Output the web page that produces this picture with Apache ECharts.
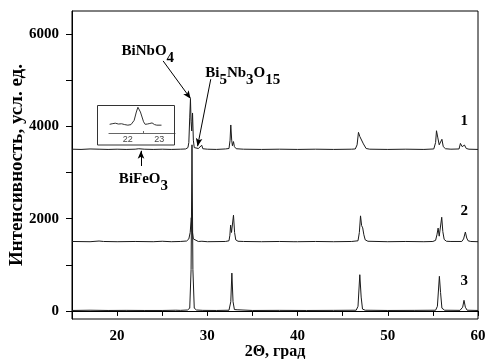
<!DOCTYPE html>
<html>
<head>
<meta charset="utf-8">
<script src="https://cdn.jsdelivr.net/npm/echarts@6/dist/echarts.min.js"></script>
<style>
html,body{margin:0;padding:0;background:#fff;}
#chart{width:487px;height:359px;}
</style>
</head>
<body>
<div id="chart"></div>
<script>
// ---- data (2Θ, intensity) ----
const curve1 = [
  [15,3505],[16,3500],[17,3510],[18,3505],[19,3500],[20,3505],[21,3500],[22,3505],[22.4,3515],[23,3505],
  [24,3500],[25,3505],[26,3500],[27,3505],[27.6,3510],[27.85,3540],[27.95,3650],[28.05,4200],[28.13,4590],
  [28.2,4100],[28.27,3900],[28.36,4290],[28.45,3700],[28.55,3540],[28.7,3515],[29.0,3520],[29.2,3510],
  [29.38,3590],[29.5,3515],[30,3505],[31,3500],[32,3510],[32.4,3520],[32.52,3700],[32.6,4030],[32.7,3700],
  [32.78,3580],[32.9,3670],[33.0,3560],[33.2,3515],[34,3505],[36,3500],[38,3505],[40,3500],[42,3505],
  [44,3500],[46,3505],[46.4,3510],[46.6,3600],[46.75,3870],[46.9,3780],[47.05,3740],[47.3,3620],[47.6,3520],
  [48,3505],[50,3500],[52,3505],[54,3500],[55.1,3510],[55.3,3650],[55.4,3905],[55.55,3750],[55.7,3600],
  [55.85,3620],[56.0,3720],[56.15,3560],[56.4,3515],[57,3505],[57.9,3510],[58.05,3630],[58.25,3560],
  [58.5,3595],[58.7,3520],[59,3505],[60,3500]
];
const curve2 = [
  [15,1505],[17,1500],[18,1515],[18.5,1505],[20,1500],[22,1505],[24,1500],[25,1510],[26,1500],[27,1505],
  [27.7,1515],[27.95,1560],[28.1,1700],[28.22,2020],[28.32,1750],[28.45,1560],[28.6,1520],[29,1505],
  [29.4,1510],[30,1500],[32,1505],[32.4,1520],[32.5,1640],[32.58,1860],[32.68,1700],[32.75,1700],[32.9,2075],
  [33.02,1700],[33.15,1540],[33.4,1510],[34,1505],[36,1500],[38,1505],[39.6,1500],[39.8,1520],[40,1500],
  [42,1505],[44,1500],[46,1505],[46.7,1520],[46.85,1700],[46.98,2060],[47.1,1850],[47.22,1800],[47.35,1650],
  [47.5,1540],[47.8,1510],[48,1505],[50,1500],[52,1505],[54,1500],[55,1505],[55.3,1530],[55.45,1650],
  [55.58,1795],[55.7,1620],[55.8,1650],[55.98,2030],[56.1,1720],[56.25,1550],[56.5,1510],[57,1505],
  [58.2,1505],[58.4,1560],[58.6,1710],[58.75,1580],[58.9,1520],[59.2,1505],[60,1500]
];
const curve3 = [
  [15,10],[17,15],[19,10],[21,12],[23,10],[25,10],[26.5,15],[27,12],[27.8,20],[28.05,60],[28.2,900],
  [28.3,3600],[28.4,900],[28.55,60],[28.8,20],[29.5,12],[31,10],[32.4,15],[32.6,200],[32.72,820],[32.85,200],
  [33.0,30],[33.3,25],[33.5,12],[35,10],[38,12],[41,10],[44,12],[46.5,15],[46.7,100],[46.9,785],[47.05,300],
  [47.2,40],[47.5,15],[50,10],[53,12],[55.3,15],[55.5,100],[55.72,750],[55.85,400],[56.0,60],[56.3,15],
  [58,12],[58.3,80],[58.45,230],[58.6,80],[58.8,15],[60,10]
];
// inset (BiFeO3 region, arbitrary units)
const insetCurve = [
  [21.42,31],[21.5,33],[21.6,35],[21.7,32],[21.8,33],[21.9,30],[22.0,28],[22.1,30],[22.2,45],[22.27,75],
  [22.32,92],[22.4,75],[22.5,40],[22.55,31],[22.62,32],[22.7,34],[22.77,36],[22.85,30],[22.92,28],[23.07,28]
];
const xMajorTicks = [20,30,40,50,60];
const xAllTicks = [15,20,25,30,35,40,45,50,55,60];
const yMajorTicks = [0,2000,4000,6000];
const yAllTicks = [0,1000,2000,3000,4000,5000,6000];
const insetLabels = [22,23];
const insetTicks = [22.5];
// annotations: [text(rich), anchor x, anchor y]
const phaseLabels = [
  ['{m|BiNbO}{s|4}', 20.44, 5617],
  ['{m|Bi}{s|5}{m|Nb}{s|3}{m|O}{s|15}', 29.71, 5143],
  ['{m|BiFeO}{s|3}', 20.14, 2850]
];
const arrows = [
  [[25.1,5418],[28.15,4600]],
  [[30.38,5022],[28.92,3570]],
  [[22.65,3141],[22.65,3470]]
];
const curveNumbers = [['1',58.0,4115],['2',58.0,2170],['3',58.0,655]];

const serif = '"Liberation Serif","Times New Roman",serif';
const LC = '#1a1a1a';

const chart = echarts.init(document.getElementById('chart'), null, {renderer:'canvas'});
const rich = {
  m:{fontFamily:serif,fontWeight:'bold',fontSize:15,color:'#000',verticalAlign:'top',lineHeight:16},
  s:{fontFamily:serif,fontWeight:'bold',fontSize:15,color:'#000',verticalAlign:'top',lineHeight:16,padding:[7,0,0,0]}
};
const option = {
  animation:false,
  backgroundColor:'#fff',
  graphic:[{
    type:'rect', shape:{x:97.5,y:105.5,width:77,height:39.5},
    style:{fill:'none',stroke:'#333',lineWidth:1}, z:10
  }],
  grid:[
    {left:72,right:9,top:11,bottom:40,show:true,borderColor:'#000',borderWidth:1,backgroundColor:'transparent',
     containLabel:false,outerBoundsMode:'none'},
    {left:109,right:312,top:105,bottom:226,containLabel:false,outerBoundsMode:'none'}
  ],
  xAxis:[
    {type:'value',gridIndex:0,min:15,max:60,
     axisLine:{lineStyle:{color:'#000',width:1}},
     axisTick:{show:true,inside:false,length:5,customValues:xAllTicks,lineStyle:{color:'#000'}},
     axisLabel:{customValues:xMajorTicks,formatter:v=>String(v),fontFamily:serif,fontWeight:'bold',fontSize:15,color:'#000',margin:10},
     splitLine:{show:false},
     name:'2Θ, град',nameLocation:'middle',nameGap:25,nameMoveOverlap:false,
     nameTextStyle:{fontFamily:serif,fontWeight:'bold',fontSize:16,color:'#000'}},
    {type:'value',gridIndex:1,min:21.4,max:23.5,
     axisLine:{lineStyle:{color:'#666',width:1.2}},
     axisTick:{show:true,inside:true,length:2,customValues:insetTicks,lineStyle:{color:'#666'}},
     axisLabel:{customValues:insetLabels,fontFamily:'"Liberation Sans",Arial,sans-serif',fontSize:9,color:'#444',margin:2},
     splitLine:{show:false}}
  ],
  yAxis:[
    {type:'value',gridIndex:0,min:-175,max:6500,
     axisLine:{show:true,lineStyle:{color:'#000',width:1}},
     axisTick:{show:true,inside:false,length:6,customValues:yAllTicks,lineStyle:{color:'#000'}},
     axisLabel:{customValues:yMajorTicks,formatter:v=>String(v),fontFamily:serif,fontWeight:'bold',fontSize:15,color:'#000',margin:13},
     splitLine:{show:false},
     name:'Интенсивность, усл. ед.',nameLocation:'middle',nameGap:45,nameMoveOverlap:false,
     nameTextStyle:{fontFamily:serif,fontWeight:'bold',fontSize:19,color:'#000'}},
    {type:'value',gridIndex:1,min:0,max:100,show:false}
  ],
  series:[
    {type:'line',xAxisIndex:0,yAxisIndex:0,data:curve1,showSymbol:false,smooth:false,
     lineStyle:{color:LC,width:1},
     markLine:{silent:true,symbol:['none','arrow'],symbolSize:[5,8],
       lineStyle:{color:'#000',width:1,type:'solid'},label:{show:false},
       data:arrows.map(a=>[{coord:a[0]},{coord:a[1]}])},
     markPoint:{silent:true,symbol:'circle',symbolSize:1,itemStyle:{color:'rgba(0,0,0,0)'},
       data:phaseLabels.map(p=>({coord:[p[1],p[2]],value:p[0],
         label:{show:true,position:'right',distance:0,formatter:p[0],rich:rich}}))
         .concat(curveNumbers.map(c=>({coord:[c[1],c[2]],value:c[0],
         label:{show:true,position:'right',distance:0,formatter:c[0],
           fontFamily:serif,fontWeight:'bold',fontSize:15,color:'#000'}})))}
    },
    {type:'line',xAxisIndex:0,yAxisIndex:0,data:curve2,showSymbol:false,lineStyle:{color:LC,width:1}},
    {type:'line',xAxisIndex:0,yAxisIndex:0,data:curve3,showSymbol:false,lineStyle:{color:LC,width:1}},
    {type:'line',xAxisIndex:1,yAxisIndex:1,data:insetCurve,showSymbol:false,lineStyle:{color:'#333',width:1}}
  ]
};
chart.setOption(option);
</script>
</body>
</html>
